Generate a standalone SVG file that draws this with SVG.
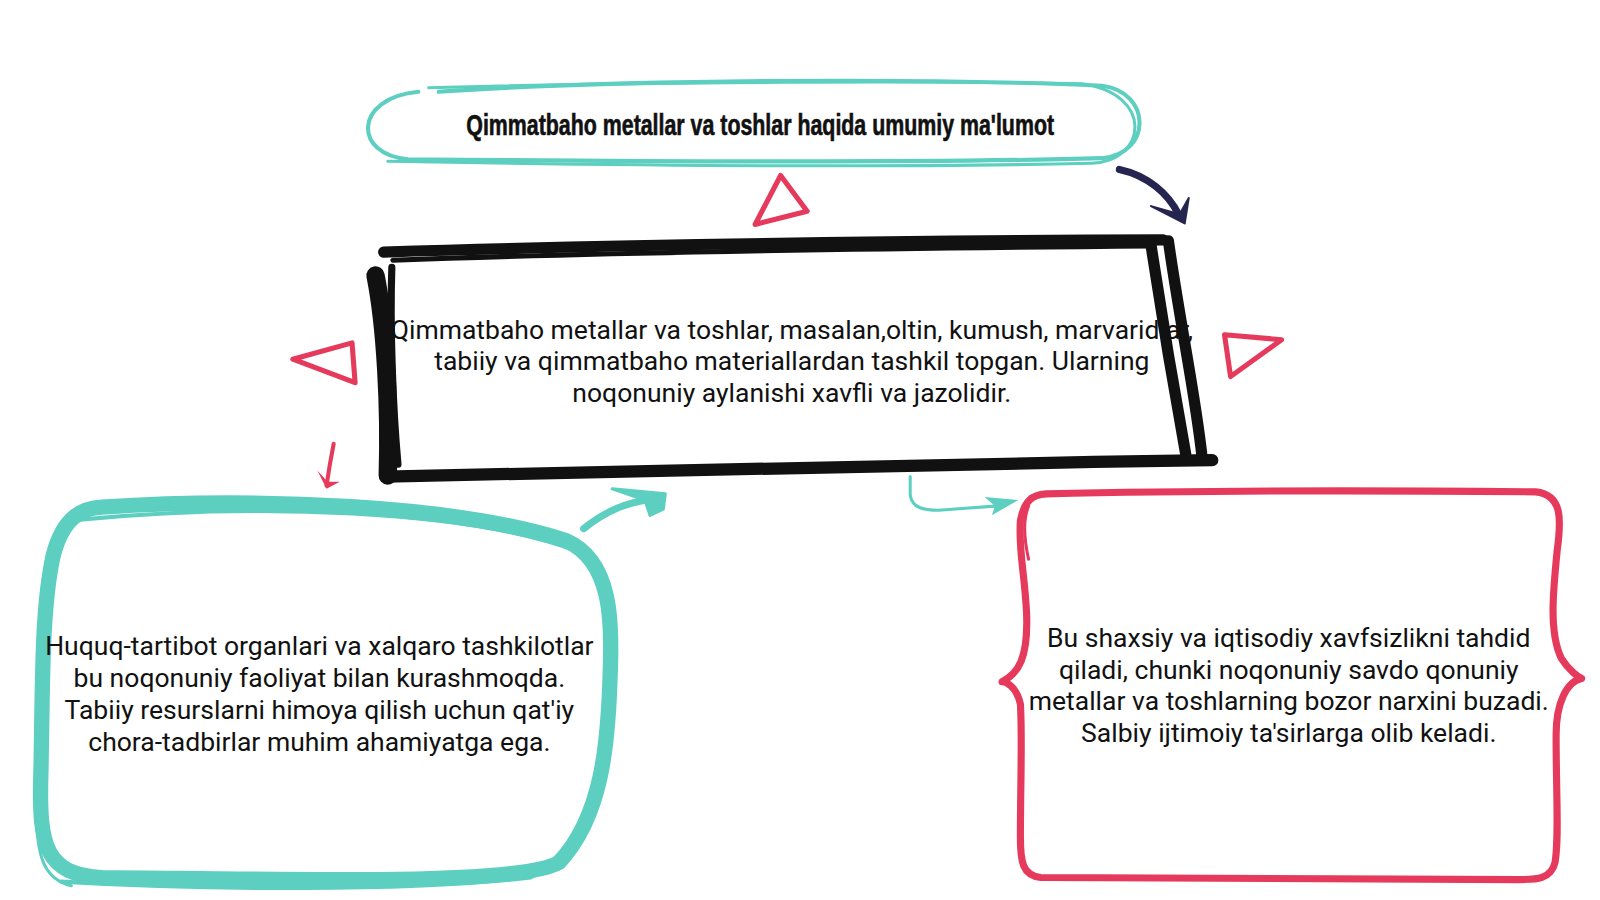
<svg xmlns="http://www.w3.org/2000/svg" width="1600" height="900" viewBox="0 0 1600 900">
<style>
.body{font-family:Roboto,"Liberation Sans",sans-serif;font-size:26px;fill:#111;text-anchor:middle}
.title{font-family:"Liberation Sans Narrow","Liberation Sans",sans-serif;font-weight:bold;font-size:28px;fill:#111;text-anchor:middle;stroke:#111;stroke-width:0.6}
.teal{fill:none;stroke:#5ccfc0;stroke-linecap:round;stroke-linejoin:round}
.red{fill:none;stroke:#e63a5c;stroke-linecap:round;stroke-linejoin:round}
.blk{fill:none;stroke:#111;stroke-linecap:round;stroke-linejoin:round}
</style>
<rect width="1600" height="900" fill="#fff"/>
<g transform="scale(1.0204)">

<g id="title-node">
  <path class="teal" stroke-width="4" d="M430 90 C600 78 900 76 1080 84 C1128 90 1130 150 1080 155 C900 160 600 158 400 156 C346 152 346 96 410 90"/>
  <path class="teal" stroke-width="3" d="M420 86 C650 80 900 79 1060 82 C1132 92 1124 158 1070 160 C850 165 600 162 380 158"/>
  <text class="title" x="745" y="132" textLength="576" lengthAdjust="spacingAndGlyphs">Qimmatbaho metallar va toshlar haqida umumiy ma'lumot</text>
</g>

<g id="center-node">
  <text class="body" x="776" y="332">Qimmatbaho metallar va toshlar, masalan,oltin, kumush, marvaridlar,</text>
  <text class="body" x="776" y="363">tabiiy va qimmatbaho materiallardan tashkil topgan. Ularning</text>
  <text class="body" x="776" y="394">noqonuniy aylanishi xavfli va jazolidir.</text>
  <path class="blk" stroke-width="11" d="M376 247 C600 240 900 236 1140 235"/>
  <path class="blk" stroke-width="5" d="M385 255 C600 247 900 243 1128 241"/>
  <path class="blk" stroke-width="18" d="M368 270 C378 320 382 400 380 466"/>
  <path class="blk" stroke-width="7" d="M384 262 C382 320 385 400 390 455"/>
  <path class="blk" stroke-width="12" d="M378 467 C600 461 900 455 1188 451"/>
  <path class="blk" stroke-width="11" d="M1128 240 C1140 320 1152 390 1162 445"/>
  <path class="blk" stroke-width="11" d="M1145 236 C1157 320 1172 390 1178 448"/>
</g>

<g id="left-node">
  <path class="teal" stroke-width="15" d="M100 497 C250 487 450 495 555 530 C600 550 600 610 598 660 C596 730 590 800 548 845 C510 868 300 862 100 860 C45 857 38 830 40 760 C42 680 40 600 52 545 C62 505 82 498 100 497 Z"/>
  <path class="teal" stroke-width="4" d="M70 510 C250 492 460 500 565 540 C598 562 600 620 592 700 C585 780 570 835 520 860 C400 874 200 872 60 864"/>
  <path class="teal" stroke-width="3" d="M36 800 C36 840 44 862 70 868"/>
  <text class="body" x="313" y="642">Huquq-tartibot organlari va xalqaro tashkilotlar</text>
  <text class="body" x="313" y="673">bu noqonuniy faoliyat bilan kurashmoqda.</text>
  <text class="body" x="313" y="705">Tabiiy resurslarni himoya qilish uchun qat'iy</text>
  <text class="body" x="313" y="736">chora-tadbirlar muhim ahamiyatga ega.</text>
</g>

<g id="right-node">
  <path class="red" stroke-width="7" d="M1025 484 C1200 480 1400 481 1505 482 C1532 485 1530 510 1526 540 C1522 580 1518 620 1530 645 C1538 658 1548 664 1550 665 C1535 668 1525 690 1525 720 C1525 780 1528 820 1524 845 C1520 862 1505 862 1490 862 C1300 862 1150 862 1020 860 C1002 858 1000 845 1000 820 C1000 770 1002 720 1000 690 C996 672 985 668 982 668 C998 660 1008 645 1006 600 C1004 560 998 540 1000 510 C1004 490 1012 485 1025 484 Z"/>
  <path class="red" stroke-width="3" d="M1008 548 C1004 530 1002 510 1008 496"/>
  <text class="body" x="1263" y="634">Bu shaxsiy va iqtisodiy xavfsizlikni tahdid</text>
  <text class="body" x="1263" y="665">qiladi, chunki noqonuniy savdo qonuniy</text>
  <text class="body" x="1263" y="696">metallar va toshlarning bozor narxini buzadi.</text>
  <text class="body" x="1263" y="727">Salbiy ijtimoiy ta'sirlarga olib keladi.</text>
</g>

<g id="decor">
  <polygon class="red" stroke-width="5" points="740,220 765,172 791,207"/>
  <polygon class="red" stroke-width="5" points="287,352 345,336 348,375"/>
  <polygon class="red" stroke-width="5" points="1200,328 1256,333 1206,369"/>
</g>

<g id="connectors">
  <path fill="none" stroke="#25254f" stroke-width="7" stroke-linecap="round" d="M1097 166 C1125 172 1145 190 1155 210"/>
  <polygon fill="#25254f" stroke="#25254f" stroke-width="2" stroke-linejoin="round" points="1128,202 1161,219 1165,194 1156,210"/>
  <path class="red" stroke-width="4" d="M327 435 C324 450 322 462 320 476"/>
  <polygon fill="#e63a5c" points="311,461 320,479 333,472 321,472"/>
  <path class="teal" stroke-width="7" d="M572 518 C595 500 615 492 640 489"/>
  <polygon fill="#5ccfc0" stroke="#5ccfc0" stroke-width="3" stroke-linejoin="round" points="600,479 652,484 650,499 637,505 632,490"/>
  <path class="teal" stroke-width="3" d="M892 467 L892 485 C894 498 905 500 920 500 L975 496"/>
  <polygon fill="#5ccfc0" points="965,487 998,490 972,505 975,496"/>
</g>
</g>
</svg>
